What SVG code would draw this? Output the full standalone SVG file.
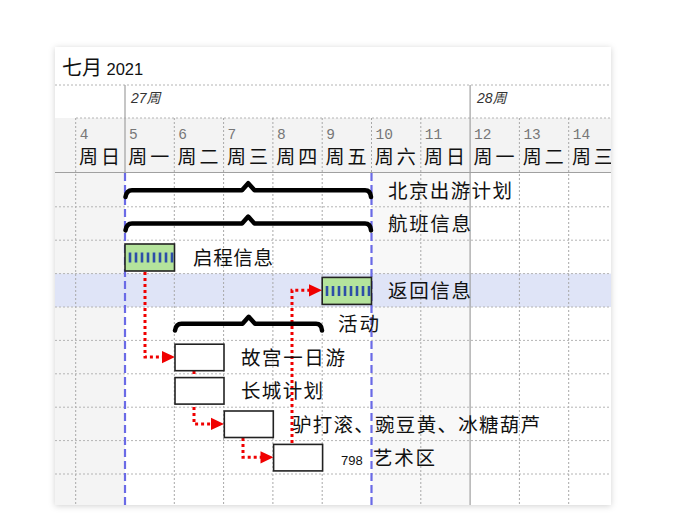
<svg xmlns="http://www.w3.org/2000/svg" width="700" height="530" viewBox="0 0 700 530">
<defs>
<style>
.cjk{font-family:"Noto Sans CJK SC","Liberation Sans",sans-serif;fill:#111;}
.lbl{font-size:19.5px;}
.day{font-size:19px;}
.num{font-family:"Liberation Mono","DejaVu Sans Mono",monospace;font-size:14.5px;fill:#777;}
.wk{font-family:"Liberation Sans","Noto Sans CJK SC",sans-serif;font-size:14px;font-style:italic;fill:#333;}
.dotv{stroke:#a8a8a8;stroke-width:1;stroke-dasharray:2 2;fill:none;}
.doth{stroke:#b4b4b4;stroke-width:1;stroke-dasharray:2 2;fill:none;}
.solid{stroke:#a0a0a0;stroke-width:1.2;fill:none;}
.blue{stroke:#6a6ae6;stroke-width:2.2;stroke-dasharray:8 4;fill:none;}
.brk{stroke:#000;stroke-width:4.5;fill:none;stroke-linejoin:round;stroke-linecap:round;}
.box{fill:#fff;stroke:#222;stroke-width:1.6;}
.bar{fill:#b4e39c;stroke:#222;stroke-width:1.6;}
.dash line{stroke:#2d4ea8;stroke-width:2.6;}
.dep{stroke:#f00000;stroke-width:3;stroke-dasharray:3 3;fill:none;}
.ah{fill:#f00000;}
</style>
<clipPath id="panel"><rect x="55" y="47" width="556" height="458"/></clipPath>
<filter id="sh" x="-10%" y="-10%" width="120%" height="120%">
<feDropShadow dx="0" dy="1" stdDeviation="3" flood-color="#000" flood-opacity="0.18"/>
</filter>
</defs>
<rect width="700" height="530" fill="#fff"/>
<rect x="55" y="47" width="556" height="458" fill="#fff" filter="url(#sh)"/>
<g clip-path="url(#panel)">
<rect x="55" y="118" width="556" height="54" fill="#f3f3f3"/>
<rect x="55" y="172" width="70" height="333" fill="#f4f4f4"/>
<rect x="371.5" y="172" width="98.6" height="333" fill="#f8f8f8"/>
<rect x="55" y="273.6" width="556" height="33.4" fill="#dfe4f7"/>
<line class="doth" x1="55" y1="85" x2="611" y2="85"/>
<line class="doth" x1="76" y1="118" x2="611" y2="118"/>
<line class="solid" x1="55" y1="172.5" x2="611" y2="172.5"/>
<line class="solid" x1="125" y1="85" x2="125" y2="172"/>
<line class="solid" x1="470.1" y1="85" x2="470.1" y2="505"/>
<g class="dotv">
<line x1="75.7" y1="118" x2="75.7" y2="505"/>
<line x1="174.3" y1="118" x2="174.3" y2="505"/>
<line x1="223.6" y1="118" x2="223.6" y2="505"/>
<line x1="272.9" y1="118" x2="272.9" y2="505"/>
<line x1="322.2" y1="118" x2="322.2" y2="505"/>
<line x1="371.5" y1="118" x2="371.5" y2="172"/>
<line x1="420.8" y1="118" x2="420.8" y2="505"/>
<line x1="519.4" y1="118" x2="519.4" y2="505"/>
<line x1="568.7" y1="118" x2="568.7" y2="505"/>
</g>
<g class="doth">
<line x1="55" y1="206.8" x2="611" y2="206.8"/>
<line x1="55" y1="240.2" x2="611" y2="240.2"/>
<line x1="55" y1="273.6" x2="611" y2="273.6"/>
<line x1="55" y1="307" x2="611" y2="307"/>
<line x1="55" y1="340.4" x2="611" y2="340.4"/>
<line x1="55" y1="373.8" x2="611" y2="373.8"/>
<line x1="55" y1="407.2" x2="611" y2="407.2"/>
<line x1="55" y1="440.6" x2="611" y2="440.6"/>
<line x1="55" y1="474" x2="611" y2="474"/>
</g>
<line class="blue" x1="125" y1="173" x2="125" y2="505"/>
<line class="blue" x1="371.5" y1="173" x2="371.5" y2="505"/>
<text x="62" y="75" class="cjk" font-size="20">七月 <tspan font-family="Liberation Sans,sans-serif" font-size="16.5">2021</tspan></text>
<text x="131" y="103" class="wk">27周</text>
<text x="477" y="103" class="wk">28周</text>
<g>
<text class="num" x="79.7" y="139">4</text>
<text class="num" x="129" y="139">5</text>
<text class="num" x="178.3" y="139">6</text>
<text class="num" x="227.6" y="139">7</text>
<text class="num" x="276.9" y="139">8</text>
<text class="num" x="326.2" y="139">9</text>
<text class="num" x="375.5" y="139">10</text>
<text class="num" x="424.8" y="139">11</text>
<text class="num" x="474.1" y="139">12</text>
<text class="num" x="523.4" y="139">13</text>
<text class="num" x="572.7" y="139">14</text>
</g>
<g class="cjk day" fill="#555">
<text x="79" y="164" textLength="41" lengthAdjust="spacing">周日</text>
<text x="128.3" y="164" textLength="41" lengthAdjust="spacing">周一</text>
<text x="177.6" y="164" textLength="41" lengthAdjust="spacing">周二</text>
<text x="226.9" y="164" textLength="41" lengthAdjust="spacing">周三</text>
<text x="276.2" y="164" textLength="41" lengthAdjust="spacing">周四</text>
<text x="325.5" y="164" textLength="41" lengthAdjust="spacing">周五</text>
<text x="374.8" y="164" textLength="41" lengthAdjust="spacing">周六</text>
<text x="424.1" y="164" textLength="41" lengthAdjust="spacing">周日</text>
<text x="473.4" y="164" textLength="41" lengthAdjust="spacing">周一</text>
<text x="522.7" y="164" textLength="41" lengthAdjust="spacing">周二</text>
<text x="572" y="164" textLength="41" lengthAdjust="spacing">周三</text>
</g>
<g id="connectors">
<path class="dep" d="M145,272 V357.1 H163"/>
<polygon class="ah" points="175,357.1 162,351 162,363.2"/>
<path class="dep" d="M292,443 V290.3 H310"/>
<polygon class="ah" points="322,290.3 309,284.2 309,296.4"/>
<path class="dep" d="M194,371 V423.9 H212"/>
<polygon class="ah" points="224,423.9 211,417.8 211,430"/>
<path class="dep" d="M243,438 V457.3 H261"/>
<polygon class="ah" points="273.5,457.3 260.5,451.2 260.5,463.4"/>
</g>
<g id="task-beijing">
<path class="brk" d="M125.5,197 Q126.5,190.2 132,190.2 H242 L248.2,183.2 L254.5,190.2 H365 Q370.5,190.2 371,197"/>
<text class="cjk lbl" x="388" y="197.5" textLength="124" lengthAdjust="spacing">北京出游计划</text>
</g>
<g id="task-flight">
<path class="brk" d="M125.5,230.4 Q126.5,223.6 132,223.6 H242 L248.2,216.6 L254.5,223.6 H365 Q370.5,223.6 371,230.4"/>
<text class="cjk lbl" x="388" y="231" textLength="83" lengthAdjust="spacing">航班信息</text>
</g>
<g id="task-depart">
<rect class="bar" x="125" y="244" width="49.5" height="27"/>
<g class="dash">
<line x1="130" y1="252.5" x2="130" y2="262.5"/>
<line x1="136" y1="252.5" x2="136" y2="262.5"/>
<line x1="142" y1="252.5" x2="142" y2="262.5"/>
<line x1="148" y1="252.5" x2="148" y2="262.5"/>
<line x1="154" y1="252.5" x2="154" y2="262.5"/>
<line x1="160" y1="252.5" x2="160" y2="262.5"/>
<line x1="166" y1="252.5" x2="166" y2="262.5"/>
<line x1="172" y1="252.5" x2="172" y2="262.5"/>
</g>
<text class="cjk lbl" x="193" y="264.5" textLength="80" lengthAdjust="spacing">启程信息</text>
</g>
<g id="task-return">
<rect class="bar" x="322.2" y="277.4" width="49.3" height="27"/>
<g class="dash">
<line x1="327" y1="286" x2="327" y2="296"/>
<line x1="333" y1="286" x2="333" y2="296"/>
<line x1="339" y1="286" x2="339" y2="296"/>
<line x1="345" y1="286" x2="345" y2="296"/>
<line x1="351" y1="286" x2="351" y2="296"/>
<line x1="357" y1="286" x2="357" y2="296"/>
<line x1="363" y1="286" x2="363" y2="296"/>
<line x1="369" y1="286" x2="369" y2="296"/>
</g>
<text class="cjk lbl" x="388" y="297.9" textLength="83" lengthAdjust="spacing">返回信息</text>
</g>
<g id="task-activity">
<path class="brk" d="M175,330.5 Q176,323.8 181.5,323.8 H242.5 L248.7,316.8 L255,323.8 H316 Q321.5,323.8 322,330.5"/>
<text class="cjk lbl" x="338" y="331.3" textLength="41" lengthAdjust="spacing">活动</text>
</g>
<g id="task-gugong">
<rect class="box" x="175" y="344.2" width="49" height="26.5"/>
<text class="cjk lbl" x="241" y="364.7" textLength="104" lengthAdjust="spacing">故宫一日游</text>
</g>
<g id="task-greatwall">
<rect class="box" x="175" y="377.6" width="49" height="26.5"/>
<text class="cjk lbl" x="241" y="398.1" textLength="82" lengthAdjust="spacing">长城计划</text>
</g>
<g id="task-snacks">
<rect class="box" x="224.3" y="411" width="49" height="26.5"/>
<text class="cjk lbl" x="292" y="431.5" textLength="248" lengthAdjust="spacing">驴打滚、豌豆黄、冰糖葫芦</text>
</g>
<g id="task-798">
<rect class="box" x="273.6" y="444.4" width="49" height="26.5"/>
<text x="341" y="464.5" font-family="Liberation Sans,sans-serif" font-size="13" fill="#111">798</text>
<text class="cjk lbl" x="373" y="464.8" textLength="62" lengthAdjust="spacing">艺术区</text>
</g>
</g>
</svg>
